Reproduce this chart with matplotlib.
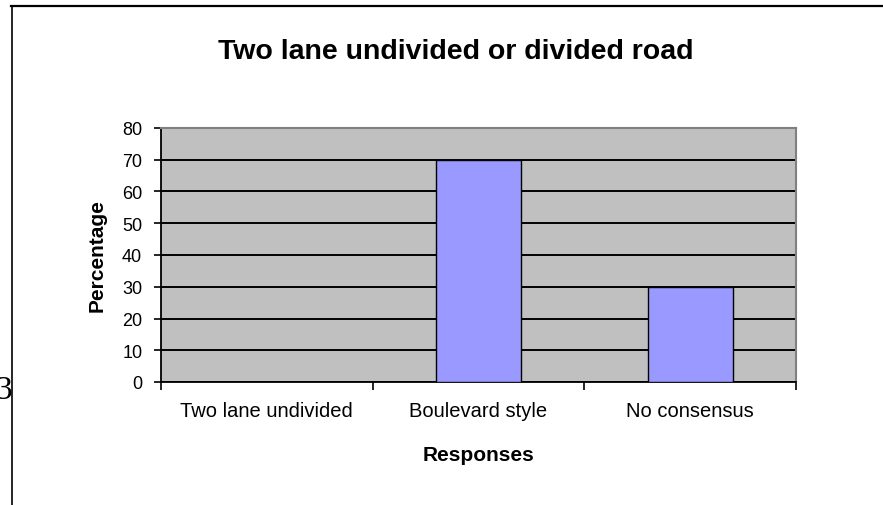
import matplotlib
matplotlib.use("Agg")
import matplotlib.pyplot as plt
from matplotlib.lines import Line2D
import numpy as np

categories = ["Two lane undivided", "Boulevard style", "No consensus"]
values = [0, 70, 30]
yticks = [0, 10, 20, 30, 40, 50, 60, 70, 80]

W, H = 883, 506
fig = plt.figure(figsize=(W / 100, H / 100), dpi=100)
fig.patch.set_facecolor("white")

L, R, T, B = 161, 796, 129, 383
ax = fig.add_axes([L / W, 1 - B / H, (R - L) / W, (B - T) / H])
ax.set_facecolor("#C0C0C0")

x = np.arange(len(categories))
ax.bar(x, values, width=0.4, color="#9999FF", edgecolor="black", linewidth=1.0, zorder=3)

ax.set_xlim(-0.5, len(categories) - 0.5)
ax.set_ylim(0, 80)
ax.set_yticks(yticks)
ax.set_yticklabels([str(v) for v in yticks], fontsize=13, family="Liberation Sans")
ax.yaxis.grid(True, color="black", linewidth=1.4)
ax.set_axisbelow(True)

ax.set_xticks(x)
ax.set_xticklabels(categories, fontsize=14.5, family="Liberation Sans")
ax.set_xticks(np.arange(len(categories) + 1) - 0.5, minor=True)
ax.tick_params(axis="x", which="major", length=0, pad=14)
ax.tick_params(axis="x", which="minor", length=6, width=1.2, direction="out", color="black")
ax.tick_params(axis="y", length=5, width=1.2, direction="out", pad=8.5, color="black")

for s in ["left", "bottom"]:
    ax.spines[s].set_color("black")
    ax.spines[s].set_linewidth(1.3)
for s in ["top", "right"]:
    ax.spines[s].set_color("#808080")
    ax.spines[s].set_linewidth(1.5)

ax.set_ylabel("Percentage", fontsize=15, fontweight="bold", family="Liberation Sans")
ax.yaxis.set_label_coords((97 - L) / (R - L), 0.5)
ax.yaxis.label.set_va("center")
ax.set_xlabel("Responses", fontsize=15, fontweight="bold", family="Liberation Sans")
ax.xaxis.set_label_coords(0.5, (B - 456) / (B - T))
ax.xaxis.label.set_va("center")

fig.text(456 / W, 1 - 52 / H, "Two lane undivided or divided road", fontsize=20.5,
         fontweight="bold", family="Liberation Sans", ha="center", va="center")

fig.text(12 / W, 1 - 391 / H, "3", fontsize=24, family="Liberation Serif",
         ha="right", va="center")

fig.add_artist(Line2D([11.5 / W, 11.5 / W], [0, 1 - 7 / H], color="black", linewidth=1.2,
                      transform=fig.transFigure))
fig.add_artist(Line2D([11 / W, 1], [1 - 7 / H, 1 - 7 / H], color="black", linewidth=1.6,
                      transform=fig.transFigure))

fig.savefig("out.png", dpi=100)
